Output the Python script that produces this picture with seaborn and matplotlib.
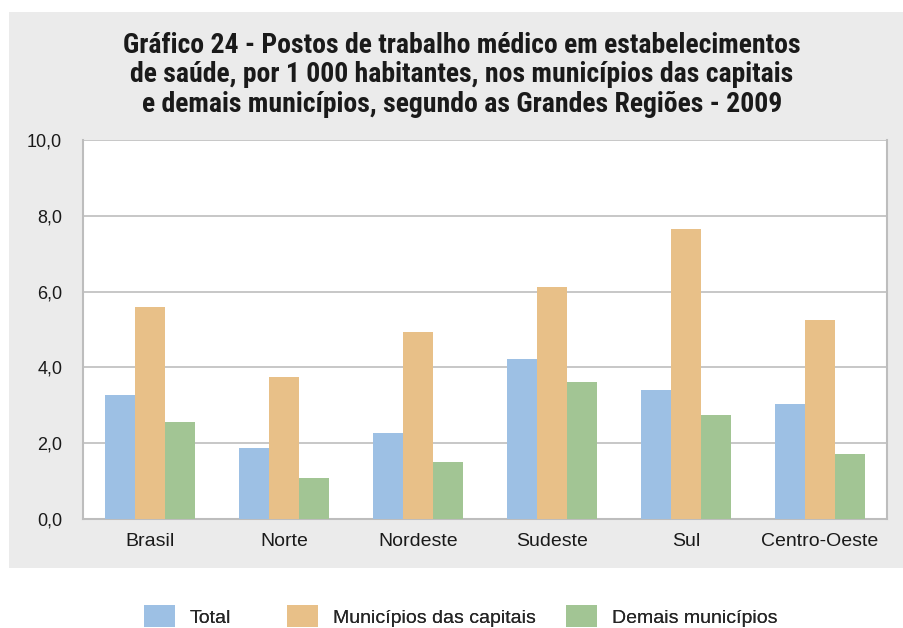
import matplotlib
matplotlib.use("Agg")
import matplotlib.pyplot as plt
import seaborn as sns
import pandas as pd
from matplotlib.patches import Rectangle

regions = ["Brasil", "Norte", "Nordeste", "Sudeste", "Sul", "Centro-Oeste"]
total = [3.27, 1.87, 2.27, 4.22, 3.40, 3.03]
capitais = [5.59, 3.75, 4.93, 6.12, 7.65, 5.25]
demais = [2.56, 1.08, 1.50, 3.61, 2.74, 1.72]
series = ["Total", "Municípios das capitais", "Demais municípios"]
colors = ["#9DC0E4", "#E8C088", "#A2C594"]
yticks = [0, 2, 4, 6, 8, 10]
ytick_labels = ["0,0", "2,0", "4,0", "6,0", "8,0", "10,0"]
title = ("Gráfico 24 - Postos de trabalho médico em estabelecimentos\n"
         "de saúde, por 1 000 habitantes, nos municípios das capitais\n"
         "e demais municípios, segundo as Grandes Regiões - 2009")

rows = []
for name, vals in zip(series, [total, capitais, demais]):
    for r, v in zip(regions, vals):
        rows.append({"Região": r, "Série": name, "Valor": v})
df = pd.DataFrame(rows)

sns.set_style("white")
plt.rcParams["font.family"] = ["Liberation Sans", "DejaVu Sans"]

fig = plt.figure(figsize=(9.04, 6.28), dpi=100)
fig.patch.set_facecolor("white")
fig.patches.append(Rectangle((9 / 904, 1 - 568 / 628), 1 - 9 / 904, (568 - 12) / 628,
                             transform=fig.transFigure, facecolor="#EBEBEB",
                             edgecolor="none", zorder=-10))

ax = fig.add_axes([83 / 904, 1 - 519 / 628, (887 - 83) / 904, (519 - 140) / 628])
ax.set_zorder(5)
ax.set_facecolor("white")
sns.barplot(data=df, x="Região", y="Valor", hue="Série", palette=colors,
            width=0.67, ax=ax, saturation=1, legend=True, zorder=3,
            linewidth=0, edgecolor="none")
ax.set_ylim(0, 10)
ax.set_xlim(-0.5, 5.5)
ax.set_yticks(yticks)
ax.set_yticklabels(ytick_labels, fontsize=13, color="#1a1a1a")
ax.tick_params(axis="y", length=0, pad=15)
ax.tick_params(axis="x", length=0, pad=10, labelsize=14, labelcolor="#1a1a1a")
ax.set_xlabel("")
ax.set_ylabel("")
ax.yaxis.grid(True, color="#BDBDBD", linewidth=1.2, zorder=0)
ax.set_axisbelow(True)
for s in ["left", "bottom", "right"]:
    ax.spines[s].set_color("#BDBDBD")
    ax.spines[s].set_linewidth(1.5)
ax.spines["top"].set_visible(False)

handles, labels = ax.get_legend_handles_labels()
ax.get_legend().remove()
legend_x = [144, 287, 566]
for h, lab, xp in zip(handles, labels, legend_x):
    leg = fig.legend([h], [lab], loc="center left",
                     bbox_to_anchor=(xp / 904, 1 - 616 / 628),
                     frameon=False, fontsize=14, handlelength=1.6,
                     handleheight=1.3, handletextpad=0.75,
                     borderpad=0, borderaxespad=0)
    fig.add_artist(leg)

fig.text(0.511, 1 - 75 / 628, title, ha="center", va="center", fontsize=20,
         fontweight="bold", family=["Roboto Condensed", "DejaVu Sans Condensed", "Liberation Sans"],
         fontstretch="condensed", linespacing=1.12, color="#1a1a1a")

fig.savefig("out.png", dpi=100)
